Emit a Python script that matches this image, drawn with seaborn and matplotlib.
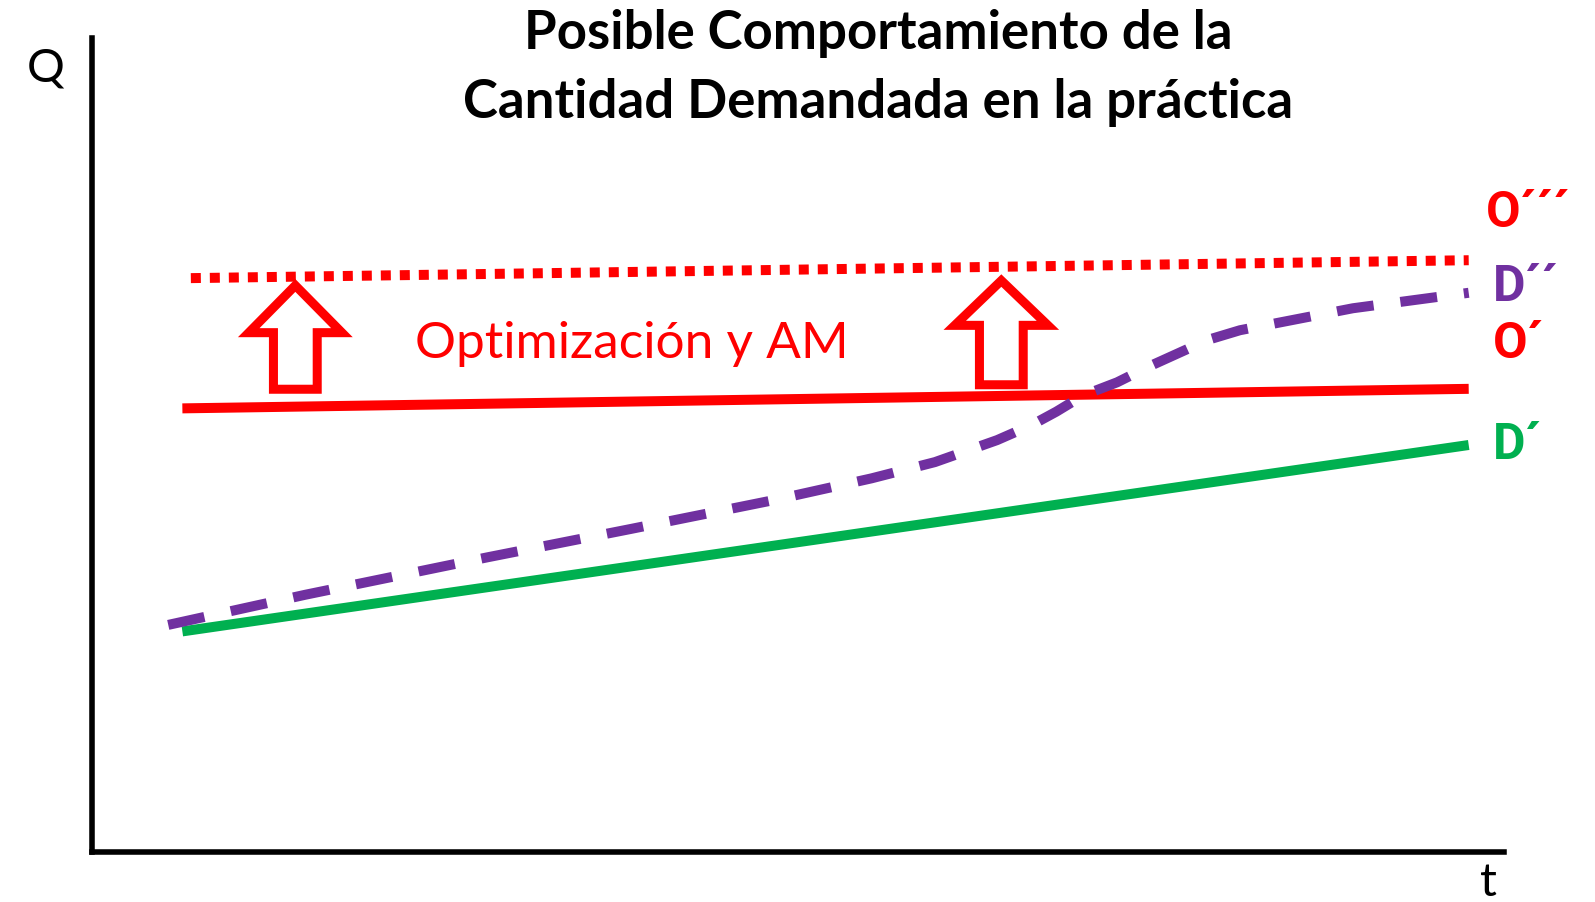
import numpy as np
import pandas as pd
import matplotlib
matplotlib.use('Agg')
import matplotlib.pyplot as plt
from matplotlib.patches import FancyArrow
import seaborn as sb

# Data (t and Q in arbitrary 0-100 units)
t_d1 = [6.4, 97.5]
q_d1 = [27.1, 50.0]

t_o1 = [6.4, 97.5]
q_o1 = [54.5, 56.9]

t_o3 = [7.0, 97.5]
q_o3 = [70.5, 72.7]

t_d2 = [5.4, 15.1, 28.0, 38.2, 48.2, 55.2, 59.7, 64.1, 66.6, 68.3, 70.2,
        72.6, 74.8, 79.0, 81.3, 89.3, 97.5]
q_d2 = [27.9, 31.6, 36.2, 39.7, 43.2, 45.9, 47.9, 50.6, 52.5, 54.1, 56.1,
        57.7, 59.6, 62.9, 64.1, 66.8, 68.7]

# shift arrows: centre t, bottom Q, head base Q, tip Q
arrow_t = [14.4, 64.4]
arrow_q_from = [56.85, 57.4]
arrow_q_head = [63.8, 64.7]
arrow_q_to = [69.6, 70.2]

labels = ["O\u00b4\u00b4\u00b4", "D\u00b4\u00b4", "O\u00b4", "D\u00b4"]
label_t = [98.7, 99.2, 99.2, 99.2]
label_q = [78.4, 69.3, 62.4, 49.9]

RED = '#FF0000'
PURPLE = '#7030A0'
GREEN = '#00B050'

sb.set_style('white')
plt.rcParams['font.family'] = ['Lato', 'DejaVu Sans']
plt.rcParams['text.color'] = 'black'

fig = plt.figure(figsize=(15.95, 9.02), dpi=100)
ax = fig.add_axes([92 / 1595, 1 - 852 / 902, 1412 / 1595, 814 / 902])
ax.set_xlim(0, 100)
ax.set_ylim(0, 100)

# Lines
sb.lineplot(x=t_d1, y=q_d1, ax=ax, color=GREEN, linewidth=7.2, sort=False,
            solid_capstyle='butt')
sb.lineplot(x=t_o1, y=q_o1, ax=ax, color=RED, linewidth=7.2, sort=False,
            solid_capstyle='butt')
sb.lineplot(x=t_o3, y=q_o3, ax=ax, color=RED, linewidth=7.2, sort=False,
            linestyle=(0, (1, 0.9)), dash_capstyle='butt')
sb.lineplot(x=t_d2, y=q_d2, ax=ax, color=PURPLE, linewidth=7.2, sort=False,
            linestyle=(0, (3.7, 2.7)), dash_capstyle='butt',
            dash_joinstyle='round')

# Outlined up arrows
for t, q0, qh, q1 in zip(arrow_t, arrow_q_from, arrow_q_head, arrow_q_to):
    arr = FancyArrow(t, q0, 0, q1 - q0,
                     width=3.1, head_width=6.6, head_length=q1 - qh,
                     length_includes_head=True, facecolor='white',
                     edgecolor=RED, linewidth=6.5, joinstyle='miter', zorder=3)
    ax.add_patch(arr)

ax.text(38.2, 62.4, 'Optimizaci\u00f3n y AM', color=RED, fontsize=37,
        ha='center', va='center')

label_colors = [RED, PURPLE, RED, GREEN]
for lab, t, q, c in zip(labels, label_t, label_q, label_colors):
    ax.text(t, q, lab, color=c, fontsize=36, fontweight='bold',
            family=['Roboto', 'DejaVu Sans'], ha='left', va='center')

# Axis names
fig.text(46 / 1595, 1 - 69 / 902, 'Q', fontsize=34, ha='center', va='center')
fig.text(1488 / 1595, 1 - 883 / 902, 't', fontsize=34, ha='center', va='center')

fig.text(878 / 1595, 1 - 68 / 902,
         'Posible Comportamiento de la\nCantidad Demandada en la pr\u00e1ctica',
         fontsize=38, fontweight='bold', ha='center', va='center',
         linespacing=1.5)

# Axes look
for side in ['top', 'right']:
    ax.spines[side].set_visible(False)
for side in ['left', 'bottom']:
    ax.spines[side].set_color('black')
    ax.spines[side].set_linewidth(4)
ax.set_xticks([])
ax.set_yticks([])

fig.savefig('out.png', dpi=100)
